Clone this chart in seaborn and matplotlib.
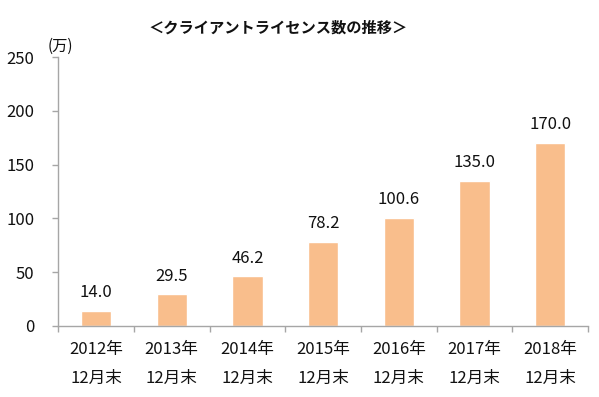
import pandas as pd
import seaborn as sns
import matplotlib.pyplot as plt

years = ["2012年", "2013年", "2014年", "2015年", "2016年", "2017年", "2018年"]
values = [14.0, 29.5, 46.2, 78.2, 100.6, 135.0, 170.0]
labels = [y + "\n12月末" for y in years]

df = pd.DataFrame({"period": labels, "licenses": values})

sns.set_style("white")
plt.rcParams["font.family"] = ["Noto Sans CJK JP", "DejaVu Sans"]

fig = plt.figure(figsize=(5.99, 3.97), dpi=100)
ax = fig.add_axes([0.097, 0.179, 0.885, 0.677])

sns.barplot(data=df, x="period", y="licenses", color="#F9BE8C", width=0.4,
            saturation=1, ax=ax)

for i, v in enumerate(values):
    ax.text(i, v + 9, f"{v:.1f}", ha="center", va="bottom", fontsize=12, color="#111111")

ax.set_ylim(0, 250)
ax.set_yticks(range(0, 251, 50))
ax.set_xlim(-0.5, len(values) - 0.5)
ax.set_xlabel("")
ax.set_ylabel("")

ax.set_xticks([i - 0.5 for i in range(len(values) + 1)], minor=True)
ax.tick_params(axis="x", which="major", bottom=True, length=0, pad=11,
               labelsize=12, labelcolor="#111111")
ax.tick_params(axis="x", which="minor", bottom=True, length=4, width=1,
               color="#A6A6A6", direction="out")
ax.tick_params(axis="y", left=True, length=4, width=1, color="#A6A6A6",
               direction="out", pad=13, labelsize=12, labelcolor="#111111")
for lbl in ax.get_xticklabels():
    lbl.set_linespacing(1.9)

for s in ["top", "right"]:
    ax.spines[s].set_visible(False)
for s in ["left", "bottom"]:
    ax.spines[s].set_color("#A6A6A6")
    ax.spines[s].set_linewidth(1)

ax.text(-0.02, 1.01, "(万)", transform=ax.transAxes, fontsize=11, ha="left", va="bottom", color="#111111")
fig.text(0.465, 0.93, "＜クライアントライセンス数の推移＞", ha="center", va="center",
         fontsize=11, fontweight="bold", color="#111111")

plt.savefig("out.png", dpi=100)
